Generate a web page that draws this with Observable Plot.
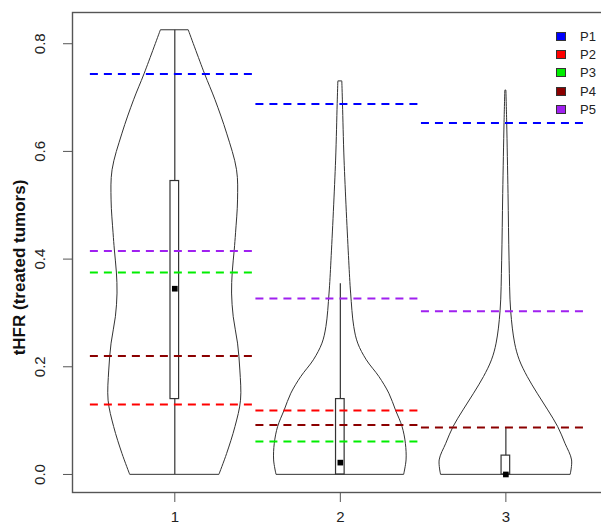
<!DOCTYPE html>
<html>
<head>
<meta charset="utf-8">
<script src="https://cdn.jsdelivr.net/npm/d3@7"></script>
<script src="https://cdn.jsdelivr.net/npm/@observablehq/plot@0.6"></script>
<style>
  html, body { margin: 0; padding: 0; background: #fff; overflow: hidden; }
  #wrap { position: relative; width: 601px; height: 525px; overflow: hidden; }
  #wrap svg { max-width: none !important; position: absolute; left: 0; top: 0; }
  #legend { position: absolute; left: 556px; top: 27px; font-family: "Liberation Sans", Arial, sans-serif; font-size: 13px; color: #222; }
  .row { display: flex; align-items: center; height: 18.4px; }
  .sw { width: 10px; height: 9px; border: 1px solid #333; box-sizing: border-box; margin-right: 14px; }
</style>
</head>
<body>
<div id="wrap"><div id="legend"></div></div>
<script>
// Categories (x positions)
const categories = [1, 2, 3];

// Violin outlines: levels (tHFR) and relative density (1 = widest)
const violinLevels1 = [0, 0.038, 0.088, 0.137, 0.193, 0.243, 0.292, 0.336, 0.375, 0.416, 0.448, 0.509, 0.565, 0.633, 0.695, 0.744, 0.825];
const violinDensity1 = [0.676, 0.79, 0.916, 1.0, 0.99, 0.955, 0.89, 0.865, 0.875, 0.905, 0.925, 0.955, 0.94, 0.79, 0.615, 0.455, 0.21];
const violinLevels2 = [0, 0.026, 0.057, 0.088, 0.119, 0.150, 0.181, 0.212, 0.243, 0.274, 0.336, 0.397, 0.583, 0.688, 0.730];
const violinDensity2 = [0.965, 1.0, 0.99, 0.94, 0.84, 0.74, 0.59, 0.40, 0.27, 0.21, 0.163, 0.134, 0.064, 0.04, 0.03];
const violinLevels3 = [0, 0.026, 0.057, 0.088, 0.119, 0.150, 0.181, 0.212, 0.243, 0.303, 0.397, 0.521, 0.653, 0.713];
const violinDensity3 = [0.98, 1.0, 0.90, 0.79, 0.64, 0.48, 0.33, 0.21, 0.14, 0.08, 0.056, 0.04, 0.02, 0.008];

// Box plot statistics
const whiskerLow = [0, 0, 0];
const whiskerHigh = [0.825, 0.354, 0.087];
const boxLow = [0.14, 0, 0];
const boxHigh = [0.545, 0.14, 0.035];
const medians = [0.345, 0.022, 0.0];

// Reference lines per patient (null = not shown)
const seriesNames = ["P1", "P2", "P3", "P4", "P5"];
const seriesColors = ["#0000ff", "#ff0000", "#00ee00", "#8b0000", "#a020f0"];
const P1 = [0.744, 0.688, 0.653];
const P2 = [0.130, 0.119, null];
const P3 = [0.375, 0.061, null];
const P4 = [0.220, 0.092, 0.087];
const P5 = [0.415, 0.327, 0.303];

// Axis ticks
const yTicks = [0, 0.2, 0.4, 0.6, 0.8];
const yTickLabels = ["0.0", "0.2", "0.4", "0.6", "0.8"];
const xTickLabels = ["1", "2", "3"];
const yLabel = "tHFR (treated tumors)";

// ---- build tables ----
const violinSets = [[violinLevels1, violinDensity1], [violinLevels2, violinDensity2], [violinLevels3, violinDensity3]];
const violinRows = violinSets.flatMap(([lv, dn], i) => lv.map((v, j) => ({c: categories[i], v, d: dn[j]})));
const boxRows = categories.map((c, i) => ({c, wl: whiskerLow[i], wh: whiskerHigh[i], bl: boxLow[i], bh: boxHigh[i], m: medians[i]}));
const seriesValues = [P1, P2, P3, P4, P5];
const lineRows = seriesValues.flatMap((vals, s) => vals.map((v, i) => ({s: seriesNames[s], c: categories[i], v})).filter(r => r.v != null));

const HALF = 0.4;   // max violin half-width (x units)
const BOX = 0.026;  // box half-width

const ink = "#333";
const chart = Plot.plot({
  width: 610,
  height: 530,
  marginLeft: 72,
  marginRight: 2,
  marginTop: 12,
  marginBottom: 38,
  x: {domain: [0.382, 3.62]},
  y: {domain: [-0.0335, 0.858]},
  color: {domain: seriesNames, range: seriesColors},
  style: {fontFamily: "'Liberation Sans', Arial, sans-serif", background: "white", color: "#222", maxWidth: "none"},
  marks: [
    Plot.areaX(violinRows, {y: "v", x1: d => d.c - HALF * d.d, x2: d => d.c + HALF * d.d, z: "c", fill: "none", stroke: ink, strokeWidth: 1, curve: "catmull-rom"}),
    Plot.ruleX(boxRows, {x: "c", y1: "wl", y2: "wh", stroke: ink, strokeWidth: 1.2}),
    Plot.rect(boxRows, {x1: d => d.c - BOX, x2: d => d.c + BOX, y1: "bl", y2: "bh", fill: "white", stroke: ink, strokeWidth: 1.2}),
    Plot.dot(boxRows, {x: "c", y: "m", symbol: "square", r: 3.2, fill: "black", stroke: "none"}),
    Plot.ruleY(lineRows, {y: "v", x1: d => d.c - 0.51, x2: d => d.c + 0.47, stroke: "s", strokeWidth: 2, strokeDasharray: "8,6"}),
    Plot.frame({stroke: "#555", strokeWidth: 1.4}),
    Plot.axisY({ticks: yTicks, tickSize: 9, tickFormat: () => "", label: null, stroke: "#555"}),
    Plot.text(yTicks, {y: d => d, text: (d, i) => yTickLabels[i], frameAnchor: "left", dx: -32, rotate: -90, fontSize: 15, textAnchor: "middle", fill: "#222"}),
    Plot.text([yLabel], {text: d => d, frameAnchor: "left", dx: -53, dy: 15, rotate: -90, fontSize: 17, fontWeight: "bold", textAnchor: "middle", fill: "#111"}),
    Plot.axisX({ticks: categories, tickSize: 10, tickPadding: 9, tickFormat: (d, i) => xTickLabels[i], fontSize: 15, label: null, stroke: "#555"})
  ]
});
const wrap = document.getElementById("wrap");
wrap.insertBefore(chart, wrap.firstChild);

const legend = document.getElementById("legend");
seriesNames.forEach((name, i) => {
  const row = document.createElement("div");
  row.className = "row";
  const sw = document.createElement("div");
  sw.className = "sw";
  sw.style.background = seriesColors[i];
  const lab = document.createElement("span");
  lab.textContent = name;
  row.appendChild(sw);
  row.appendChild(lab);
  legend.appendChild(row);
});
</script>
</body>
</html>
